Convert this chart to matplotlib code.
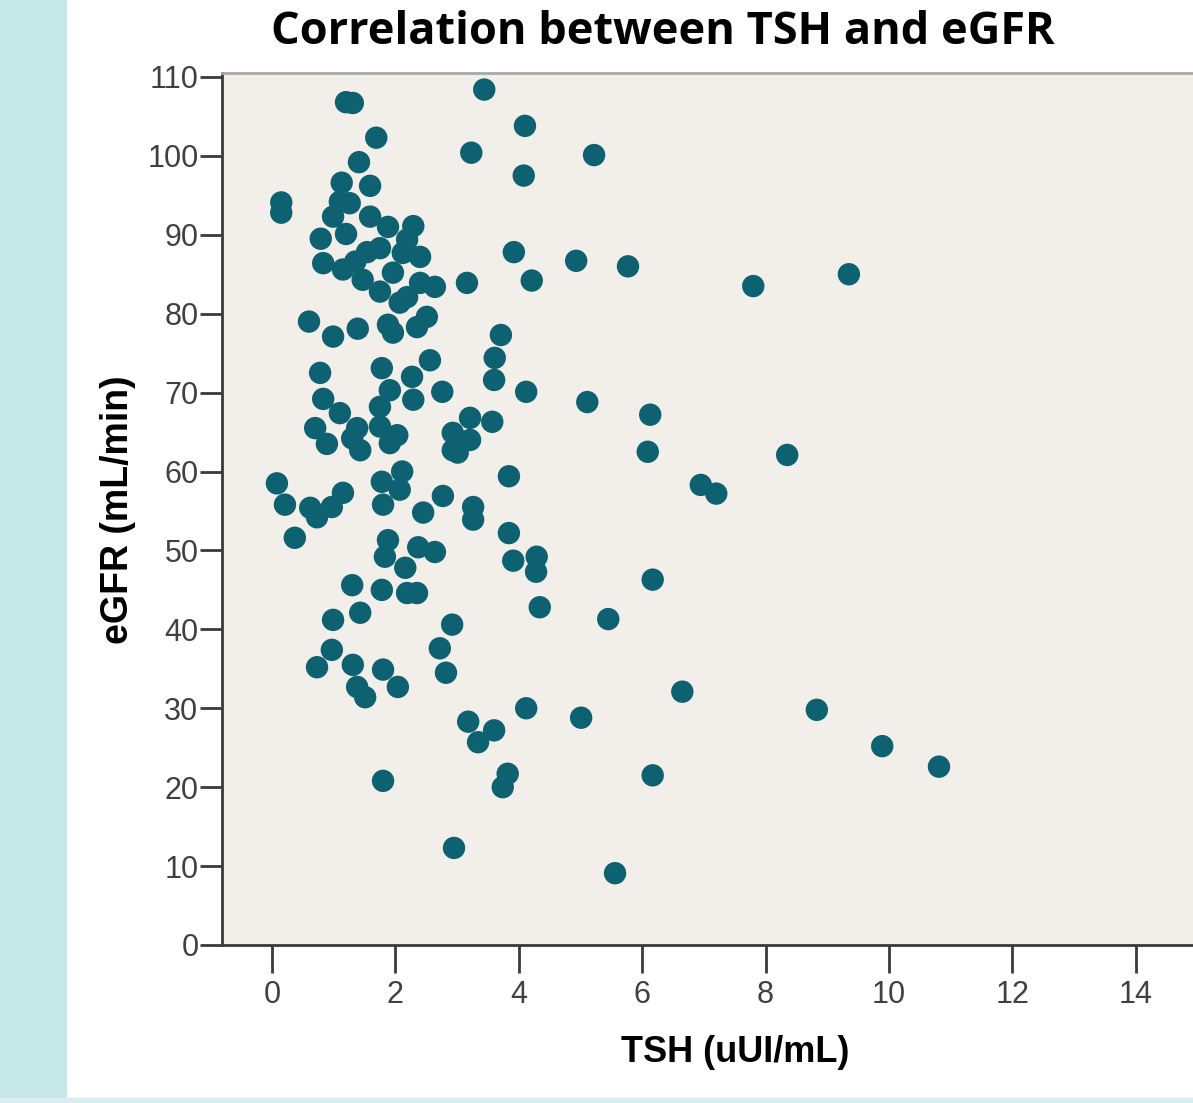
import matplotlib
matplotlib.use("Agg")
from matplotlib import pyplot as plt
from matplotlib.patches import Rectangle

# TSH (uUI/mL) and eGFR (mL/min)
tsh = [
    1.20, 1.31, 3.44, 4.10, 1.69, 3.23, 5.22, 1.41, 4.08, 1.13,
    1.59, 0.15, 0.15, 1.10, 1.26, 0.99, 1.59, 1.88, 2.29, 0.79,
    1.20, 0.83, 1.15, 1.54, 1.75, 2.19, 2.12, 2.40, 1.96, 1.47,
    1.75, 2.40, 2.64, 3.16, 2.07, 2.19, 2.51, 0.60, 0.99, 1.39,
    1.88, 1.96, 2.35, 3.92, 4.93, 5.77, 4.21, 7.80, 9.35, 3.71,
    1.35, 0.78, 0.83, 1.10, 0.70, 0.89, 1.38, 1.43, 1.30, 1.78,
    1.91, 1.75, 2.27, 2.29, 2.56, 2.76, 1.75, 1.91, 2.03, 2.93,
    2.93, 3.61, 3.60, 4.12, 5.11, 6.13, 6.09, 8.35, 6.95, 7.20,
    3.21, 3.21, 3.01, 3.57, 3.84, 2.77, 3.26, 3.26, 2.45, 3.84,
    3.91, 4.29, 4.28, 4.34, 0.08, 0.21, 0.37, 0.62, 0.73, 0.97,
    1.15, 1.78, 2.11, 2.07, 1.80, 1.88, 1.83, 2.16, 2.37, 2.64,
    1.30, 1.78, 2.19, 2.35, 0.99, 1.43, 0.97, 0.73, 1.31, 1.38,
    1.51, 1.80, 2.04, 2.92, 2.72, 2.82, 3.18, 3.34, 3.60, 1.80,
    2.95, 3.82, 3.74, 4.12, 5.01, 5.45, 6.17, 6.65, 6.17, 5.56,
    8.83, 9.89, 10.81,
]
egfr = [
    106.8, 106.7, 108.4, 103.8, 102.3, 100.4, 100.1, 99.2, 97.5, 96.6,
    96.2, 94.1, 92.8, 94.2, 94.0, 92.3, 92.3, 91.0, 91.1, 89.5,
    90.1, 86.4, 85.6, 87.8, 88.3, 89.4, 87.7, 87.2, 85.2, 84.3,
    82.8, 83.9, 83.4, 83.9, 81.4, 82.1, 79.6, 79.0, 77.1, 78.1,
    78.6, 77.6, 78.3, 87.8, 86.7, 86.0, 84.2, 83.5, 85.0, 77.3,
    86.6, 72.5, 69.2, 67.4, 65.5, 63.5, 65.5, 62.7, 64.2, 73.1,
    70.3, 68.2, 72.0, 69.1, 74.1, 70.1, 65.7, 63.6, 64.6, 64.9,
    62.7, 74.4, 71.6, 70.1, 68.8, 67.2, 62.5, 62.1, 58.3, 57.2,
    66.8, 64.0, 62.4, 66.3, 59.4, 56.9, 55.5, 53.9, 54.8, 52.2,
    48.7, 49.2, 47.3, 42.8, 58.5, 55.8, 51.6, 55.4, 54.2, 55.5,
    57.3, 58.7, 60.0, 57.7, 55.8, 51.3, 49.2, 47.8, 50.4, 49.8,
    45.6, 45.0, 44.6, 44.6, 41.2, 42.1, 37.4, 35.2, 35.5, 32.7,
    31.4, 34.9, 32.7, 40.6, 37.6, 34.5, 28.3, 25.7, 27.2, 20.8,
    12.3, 21.7, 20.0, 30.0, 28.8, 41.3, 46.3, 32.1, 21.5, 9.1,
    29.8, 25.2, 22.6,
]

x_ticks = [0, 2, 4, 6, 8, 10, 12, 14]
y_ticks = [0, 10, 20, 30, 40, 50, 60, 70, 80, 90, 100, 110]

W, H = 1193, 1103
fig = plt.figure(figsize=(W / 100, H / 100), dpi=100)

# slide background: teal strip on the left and a thin one at the bottom
fig.patches.append(Rectangle((0, 0), 66 / W, 1, transform=fig.transFigure,
                             color="#c6e7e7", zorder=0))
fig.patches.append(Rectangle((0, 0), 1, 5 / H, transform=fig.transFigure,
                             color="#d6eeee", zorder=0))

ax = fig.add_axes([222 / W, 158 / H, 978 / W, 872 / H])
ax.set_facecolor("#f2efea")
ax.scatter(tsh, egfr, s=260, color="#0e6170", edgecolors="none", zorder=3)

ax.set_xlim(-0.81, 15.04)
ax.set_ylim(0, 110.5)
ax.set_xticks(x_ticks)
ax.set_yticks(y_ticks)

for side in ["left", "bottom"]:
    ax.spines[side].set_color("#3a3a3a")
    ax.spines[side].set_linewidth(2)
ax.spines["top"].set_color("#a8a8a8")
ax.spines["top"].set_linewidth(2)
ax.spines["right"].set_visible(False)

ax.tick_params(axis="y", direction="out", length=16, width=2, color="#3a3a3a",
               labelsize=22, labelcolor="#404040", pad=1)
ax.tick_params(axis="x", direction="out", length=20, width=2, color="#3a3a3a",
               labelsize=22, labelcolor="#404040", pad=5)
for lab in ax.get_xticklabels() + ax.get_yticklabels():
    lab.set_family("Liberation Sans")

ax.set_xlabel("TSH (uUI/mL)", fontsize=26, fontweight="bold",
              family="Liberation Sans", va="center")
ax.xaxis.set_label_coords((735 - 222) / 978, (945 - 1052) / 872)
ax.set_ylabel("eGFR (mL/min)", fontsize=27, fontweight="bold",
              family="Liberation Sans", va="center")
ax.yaxis.set_label_coords((118 - 222) / 978, (945 - 510) / 872)

fig.text(663 / W, 1 - 32 / H, "Correlation between TSH and eGFR",
         ha="center", va="center", fontsize=32.5, fontweight="bold",
         family="Open Sans")

fig.savefig("out.png", dpi=100)
